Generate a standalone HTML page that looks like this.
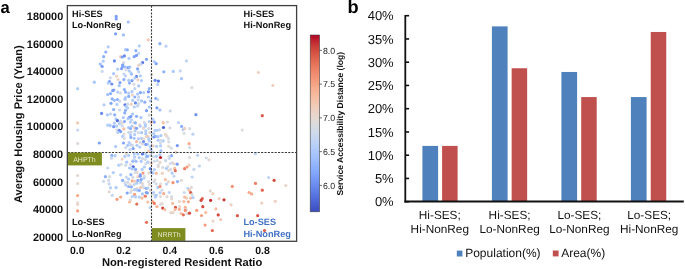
<!DOCTYPE html><html><head><meta charset="utf-8"><style>html,body{margin:0;padding:0;background:#fff;}body{width:685px;height:269px;overflow:hidden;}svg{display:block;will-change:transform;}text{font-family:"Liberation Sans",sans-serif;text-rendering:geometricPrecision;}</style></head><body>
<svg width="685" height="269" viewBox="0 0 685 269">
<defs><linearGradient id="cw" x1="0" y1="1" x2="0" y2="0">
<stop offset="0.000" stop-color="#3b4cc0"/>
<stop offset="0.050" stop-color="#4961d2"/>
<stop offset="0.100" stop-color="#5977e3"/>
<stop offset="0.150" stop-color="#6a8bef"/>
<stop offset="0.200" stop-color="#7b9ff9"/>
<stop offset="0.250" stop-color="#8db0fe"/>
<stop offset="0.300" stop-color="#9ebeff"/>
<stop offset="0.350" stop-color="#afcafc"/>
<stop offset="0.400" stop-color="#c0d4f5"/>
<stop offset="0.450" stop-color="#cfdaea"/>
<stop offset="0.500" stop-color="#dddcdc"/>
<stop offset="0.550" stop-color="#e9d5cb"/>
<stop offset="0.600" stop-color="#f2cbb7"/>
<stop offset="0.650" stop-color="#f6bda2"/>
<stop offset="0.700" stop-color="#f7ac8e"/>
<stop offset="0.750" stop-color="#f4987a"/>
<stop offset="0.800" stop-color="#ee8468"/>
<stop offset="0.850" stop-color="#e36c55"/>
<stop offset="0.900" stop-color="#d65244"/>
<stop offset="0.950" stop-color="#c53334"/>
<stop offset="1.000" stop-color="#b40426"/>
</linearGradient></defs>
<text x="0.5" y="12.8" font-size="16.6" font-weight="bold" fill="#000">a</text>
<text x="347.4" y="13.0" font-size="18.2" font-weight="bold" fill="#000">b</text>
<circle cx="116.20" cy="16.40" r="1.6" fill="#7b9ff9"/>
<circle cx="116.20" cy="18.90" r="1.6" fill="#7b9ff9"/>
<circle cx="128.20" cy="22.00" r="1.6" fill="#9ebeff"/>
<circle cx="115.60" cy="33.80" r="1.6" fill="#7b9ff9"/>
<circle cx="123.40" cy="34.90" r="1.6" fill="#9ebeff"/>
<circle cx="108.20" cy="46.80" r="1.6" fill="#b3cdfb"/>
<circle cx="125.50" cy="49.60" r="1.6" fill="#abc8fd"/>
<circle cx="105.80" cy="52.00" r="1.6" fill="#8db0fe"/>
<circle cx="103.60" cy="56.70" r="1.6" fill="#8db0fe"/>
<circle cx="120.50" cy="56.70" r="1.6" fill="#eed0c0"/>
<circle cx="124.40" cy="55.90" r="1.6" fill="#6a8bef"/>
<circle cx="122.20" cy="57.00" r="1.6" fill="#7b9ff9"/>
<circle cx="103.20" cy="61.20" r="1.6" fill="#b3cdfb"/>
<circle cx="114.40" cy="60.90" r="1.6" fill="#6a8bef"/>
<circle cx="100.20" cy="64.10" r="1.6" fill="#9ebeff"/>
<circle cx="123.60" cy="62.60" r="1.6" fill="#d5dbe5"/>
<circle cx="122.70" cy="65.20" r="1.6" fill="#7b9ff9"/>
<circle cx="148.20" cy="39.80" r="1.6" fill="#f2c9b4"/>
<circle cx="159.90" cy="43.70" r="1.6" fill="#8db0fe"/>
<circle cx="166.00" cy="46.20" r="1.6" fill="#bfd3f6"/>
<circle cx="139.30" cy="45.90" r="1.6" fill="#b3cdfb"/>
<circle cx="135.90" cy="50.70" r="1.6" fill="#8db0fe"/>
<circle cx="138.70" cy="53.40" r="1.6" fill="#bfd3f6"/>
<circle cx="136.50" cy="55.40" r="1.6" fill="#7b9ff9"/>
<circle cx="134.20" cy="56.70" r="1.6" fill="#7b9ff9"/>
<circle cx="129.00" cy="58.40" r="1.6" fill="#b3cdfb"/>
<circle cx="146.50" cy="59.30" r="1.6" fill="#82a6fb"/>
<circle cx="142.60" cy="62.60" r="1.6" fill="#5977e3"/>
<circle cx="140.90" cy="64.10" r="1.6" fill="#c6d6f1"/>
<circle cx="154.30" cy="61.70" r="1.6" fill="#b3cdfb"/>
<circle cx="156.20" cy="63.70" r="1.6" fill="#82a6fb"/>
<circle cx="186.40" cy="60.90" r="1.6" fill="#bfd3f6"/>
<circle cx="180.30" cy="70.90" r="1.6" fill="#c6d6f1"/>
<circle cx="181.50" cy="78.70" r="1.6" fill="#a6c4fe"/>
<circle cx="191.90" cy="87.60" r="1.6" fill="#d9dce1"/>
<circle cx="258.40" cy="72.50" r="1.6" fill="#eed0c0"/>
<circle cx="272.90" cy="85.40" r="1.6" fill="#eed0c0"/>
<circle cx="102.10" cy="66.40" r="1.6" fill="#7b9ff9"/>
<circle cx="102.10" cy="71.40" r="1.6" fill="#ccd9ed"/>
<circle cx="94.30" cy="82.20" r="1.6" fill="#a6c4fe"/>
<circle cx="77.60" cy="88.70" r="1.6" fill="#b3cdfb"/>
<circle cx="113.60" cy="73.70" r="1.6" fill="#abc8fd"/>
<circle cx="117.70" cy="69.20" r="1.6" fill="#b3cdfb"/>
<circle cx="121.60" cy="68.60" r="1.6" fill="#7b9ff9"/>
<circle cx="122.70" cy="66.40" r="1.6" fill="#82a6fb"/>
<circle cx="125.00" cy="67.00" r="1.6" fill="#9ebeff"/>
<circle cx="126.10" cy="69.80" r="1.6" fill="#d5dbe5"/>
<circle cx="123.90" cy="74.00" r="1.6" fill="#c6d6f1"/>
<circle cx="125.50" cy="75.90" r="1.6" fill="#bfd3f6"/>
<circle cx="110.30" cy="77.80" r="1.6" fill="#ccd9ed"/>
<circle cx="116.60" cy="76.20" r="1.6" fill="#ead4c8"/>
<circle cx="118.10" cy="79.50" r="1.6" fill="#ead4c8"/>
<circle cx="123.90" cy="79.60" r="1.6" fill="#8db0fe"/>
<circle cx="109.40" cy="81.50" r="1.6" fill="#7b9ff9"/>
<circle cx="108.20" cy="83.10" r="1.6" fill="#b3cdfb"/>
<circle cx="111.80" cy="84.00" r="1.6" fill="#6a8bef"/>
<circle cx="120.00" cy="82.60" r="1.6" fill="#82a6fb"/>
<circle cx="119.20" cy="85.70" r="1.6" fill="#a6c4fe"/>
<circle cx="113.80" cy="90.00" r="1.6" fill="#7b9ff9"/>
<circle cx="112.70" cy="90.70" r="1.6" fill="#7b9ff9"/>
<circle cx="124.40" cy="89.60" r="1.6" fill="#8db0fe"/>
<circle cx="117.70" cy="92.10" r="1.6" fill="#b3cdfb"/>
<circle cx="120.50" cy="92.90" r="1.6" fill="#d5dbe5"/>
<circle cx="125.50" cy="92.10" r="1.6" fill="#8db0fe"/>
<circle cx="110.50" cy="93.70" r="1.6" fill="#8db0fe"/>
<circle cx="107.70" cy="94.50" r="1.6" fill="#9ebeff"/>
<circle cx="128.10" cy="67.50" r="1.6" fill="#7b9ff9"/>
<circle cx="129.80" cy="67.00" r="1.6" fill="#9ebeff"/>
<circle cx="129.20" cy="70.90" r="1.6" fill="#b3cdfb"/>
<circle cx="137.60" cy="68.90" r="1.6" fill="#82a6fb"/>
<circle cx="138.70" cy="71.80" r="1.6" fill="#bfd3f6"/>
<circle cx="131.50" cy="74.00" r="1.6" fill="#8db0fe"/>
<circle cx="130.90" cy="72.90" r="1.6" fill="#b3cdfb"/>
<circle cx="136.50" cy="76.40" r="1.6" fill="#6a8bef"/>
<circle cx="140.40" cy="75.90" r="1.6" fill="#b3cdfb"/>
<circle cx="134.80" cy="78.10" r="1.6" fill="#b3cdfb"/>
<circle cx="137.90" cy="79.80" r="1.6" fill="#eed0c0"/>
<circle cx="141.50" cy="80.70" r="1.6" fill="#b3cdfb"/>
<circle cx="132.00" cy="80.70" r="1.6" fill="#7b9ff9"/>
<circle cx="128.70" cy="80.30" r="1.6" fill="#abc8fd"/>
<circle cx="129.50" cy="83.10" r="1.6" fill="#8db0fe"/>
<circle cx="133.90" cy="84.30" r="1.6" fill="#d5dbe5"/>
<circle cx="138.70" cy="85.90" r="1.6" fill="#abc8fd"/>
<circle cx="134.80" cy="88.70" r="1.6" fill="#bfd3f6"/>
<circle cx="132.00" cy="91.50" r="1.6" fill="#abc8fd"/>
<circle cx="128.70" cy="93.20" r="1.6" fill="#b3cdfb"/>
<circle cx="140.40" cy="92.60" r="1.6" fill="#82a6fb"/>
<circle cx="143.70" cy="92.60" r="1.6" fill="#b3cdfb"/>
<circle cx="137.60" cy="94.10" r="1.6" fill="#abc8fd"/>
<circle cx="132.40" cy="94.80" r="1.6" fill="#ead4c8"/>
<circle cx="149.30" cy="88.70" r="1.6" fill="#8db0fe"/>
<circle cx="148.40" cy="91.80" r="1.6" fill="#6a8bef"/>
<circle cx="151.70" cy="74.40" r="1.6" fill="#e4d9d2"/>
<circle cx="155.10" cy="80.30" r="1.6" fill="#6a8bef"/>
<circle cx="158.40" cy="81.10" r="1.6" fill="#5977e3"/>
<circle cx="157.70" cy="84.50" r="1.6" fill="#b3cdfb"/>
<circle cx="163.80" cy="71.80" r="1.6" fill="#8db0fe"/>
<circle cx="173.30" cy="71.40" r="1.6" fill="#abc8fd"/>
<circle cx="112.20" cy="98.90" r="1.6" fill="#8db0fe"/>
<circle cx="114.40" cy="100.30" r="1.6" fill="#9ebeff"/>
<circle cx="117.40" cy="99.50" r="1.6" fill="#8db0fe"/>
<circle cx="119.60" cy="101.10" r="1.6" fill="#c6d6f1"/>
<circle cx="125.50" cy="97.50" r="1.6" fill="#b3cdfb"/>
<circle cx="125.00" cy="99.20" r="1.6" fill="#a6c4fe"/>
<circle cx="111.00" cy="103.30" r="1.6" fill="#82a6fb"/>
<circle cx="104.00" cy="104.80" r="1.6" fill="#b3cdfb"/>
<circle cx="117.00" cy="104.40" r="1.6" fill="#b3cdfb"/>
<circle cx="125.00" cy="104.80" r="1.6" fill="#5977e3"/>
<circle cx="126.10" cy="106.40" r="1.6" fill="#abc8fd"/>
<circle cx="113.60" cy="109.60" r="1.6" fill="#8db0fe"/>
<circle cx="119.60" cy="110.00" r="1.6" fill="#ccd9ed"/>
<circle cx="125.50" cy="110.30" r="1.6" fill="#8db0fe"/>
<circle cx="101.60" cy="113.40" r="1.6" fill="#6a8bef"/>
<circle cx="107.40" cy="114.80" r="1.6" fill="#abc8fd"/>
<circle cx="110.50" cy="114.00" r="1.6" fill="#bfd3f6"/>
<circle cx="114.70" cy="114.80" r="1.6" fill="#8db0fe"/>
<circle cx="124.70" cy="112.90" r="1.6" fill="#8db0fe"/>
<circle cx="77.60" cy="122.90" r="1.6" fill="#f2c9b4"/>
<circle cx="116.00" cy="118.90" r="1.6" fill="#b3cdfb"/>
<circle cx="117.40" cy="120.70" r="1.6" fill="#536edd"/>
<circle cx="120.50" cy="121.20" r="1.6" fill="#d5dbe5"/>
<circle cx="123.30" cy="117.60" r="1.6" fill="#abc8fd"/>
<circle cx="124.40" cy="121.50" r="1.6" fill="#82a6fb"/>
<circle cx="122.50" cy="123.20" r="1.6" fill="#e4d9d2"/>
<circle cx="114.40" cy="123.20" r="1.6" fill="#b3cdfb"/>
<circle cx="119.40" cy="123.70" r="1.6" fill="#b3cdfb"/>
<circle cx="107.70" cy="125.20" r="1.6" fill="#b3cdfb"/>
<circle cx="109.90" cy="125.20" r="1.6" fill="#b3cdfb"/>
<circle cx="128.70" cy="96.40" r="1.6" fill="#8db0fe"/>
<circle cx="134.80" cy="97.00" r="1.6" fill="#8db0fe"/>
<circle cx="138.70" cy="97.00" r="1.6" fill="#c6d6f1"/>
<circle cx="132.60" cy="100.30" r="1.6" fill="#b3cdfb"/>
<circle cx="138.10" cy="99.80" r="1.6" fill="#c6d6f1"/>
<circle cx="141.50" cy="100.90" r="1.6" fill="#a6c4fe"/>
<circle cx="144.80" cy="102.20" r="1.6" fill="#8db0fe"/>
<circle cx="148.40" cy="97.00" r="1.6" fill="#abc8fd"/>
<circle cx="150.40" cy="100.90" r="1.6" fill="#b3cdfb"/>
<circle cx="135.40" cy="102.90" r="1.6" fill="#6a8bef"/>
<circle cx="131.20" cy="104.20" r="1.6" fill="#eed0c0"/>
<circle cx="127.60" cy="104.20" r="1.6" fill="#ccd9ed"/>
<circle cx="134.20" cy="107.00" r="1.6" fill="#b3cdfb"/>
<circle cx="137.60" cy="105.90" r="1.6" fill="#bfd3f6"/>
<circle cx="138.70" cy="103.70" r="1.6" fill="#ccd9ed"/>
<circle cx="127.60" cy="108.10" r="1.6" fill="#b3cdfb"/>
<circle cx="149.30" cy="107.00" r="1.6" fill="#a6c4fe"/>
<circle cx="146.50" cy="110.70" r="1.6" fill="#7b9ff9"/>
<circle cx="155.80" cy="98.40" r="1.6" fill="#8db0fe"/>
<circle cx="157.70" cy="99.50" r="1.6" fill="#bfd3f6"/>
<circle cx="156.90" cy="107.80" r="1.6" fill="#7b9ff9"/>
<circle cx="159.90" cy="110.00" r="1.6" fill="#9ebeff"/>
<circle cx="170.30" cy="110.90" r="1.6" fill="#ccd9ed"/>
<circle cx="132.60" cy="114.00" r="1.6" fill="#abc8fd"/>
<circle cx="136.50" cy="116.30" r="1.6" fill="#8db0fe"/>
<circle cx="130.90" cy="116.50" r="1.6" fill="#7b9ff9"/>
<circle cx="129.20" cy="117.40" r="1.6" fill="#7b9ff9"/>
<circle cx="128.10" cy="118.70" r="1.6" fill="#abc8fd"/>
<circle cx="140.90" cy="117.60" r="1.6" fill="#abc8fd"/>
<circle cx="149.10" cy="115.10" r="1.6" fill="#d9dce1"/>
<circle cx="131.50" cy="119.80" r="1.6" fill="#bfd3f6"/>
<circle cx="130.30" cy="122.10" r="1.6" fill="#b3cdfb"/>
<circle cx="133.70" cy="122.60" r="1.6" fill="#d5dbe5"/>
<circle cx="135.40" cy="122.90" r="1.6" fill="#8db0fe"/>
<circle cx="144.30" cy="122.30" r="1.6" fill="#d5dbe5"/>
<circle cx="149.30" cy="121.50" r="1.6" fill="#b3cdfb"/>
<circle cx="151.30" cy="122.30" r="1.6" fill="#f7bca1"/>
<circle cx="152.90" cy="119.30" r="1.6" fill="#b3cdfb"/>
<circle cx="154.30" cy="122.10" r="1.6" fill="#7b9ff9"/>
<circle cx="163.20" cy="122.60" r="1.6" fill="#f7bca1"/>
<circle cx="167.40" cy="122.10" r="1.6" fill="#d9dce1"/>
<circle cx="178.50" cy="122.60" r="1.6" fill="#bfd3f6"/>
<circle cx="139.80" cy="124.80" r="1.6" fill="#e4d9d2"/>
<circle cx="145.40" cy="124.50" r="1.6" fill="#b3cdfb"/>
<circle cx="195.90" cy="114.70" r="1.6" fill="#7093f3"/>
<circle cx="262.30" cy="115.70" r="1.6" fill="#da5a49"/>
<circle cx="242.20" cy="130.10" r="1.6" fill="#e0dbd8"/>
<circle cx="163.50" cy="127.50" r="1.6" fill="#4961d2"/>
<circle cx="169.90" cy="127.80" r="1.6" fill="#d5dbe5"/>
<circle cx="181.60" cy="126.40" r="1.6" fill="#8db0fe"/>
<circle cx="183.20" cy="129.50" r="1.6" fill="#abc8fd"/>
<circle cx="184.70" cy="128.40" r="1.6" fill="#eed0c0"/>
<circle cx="189.60" cy="128.60" r="1.6" fill="#d9dce1"/>
<circle cx="184.00" cy="133.30" r="1.6" fill="#d9dce1"/>
<circle cx="192.90" cy="134.20" r="1.6" fill="#bfd3f6"/>
<circle cx="189.10" cy="143.70" r="1.6" fill="#f7aa8c"/>
<circle cx="189.60" cy="147.60" r="1.6" fill="#d5dbe5"/>
<circle cx="177.30" cy="145.60" r="1.6" fill="#7597f6"/>
<circle cx="168.70" cy="146.30" r="1.6" fill="#e4d9d2"/>
<circle cx="171.30" cy="148.20" r="1.6" fill="#d5dbe5"/>
<circle cx="175.80" cy="152.10" r="1.6" fill="#ead4c8"/>
<circle cx="165.40" cy="134.40" r="1.6" fill="#ead4c8"/>
<circle cx="166.80" cy="136.20" r="1.6" fill="#e4d9d2"/>
<circle cx="168.40" cy="138.50" r="1.6" fill="#d5dbe5"/>
<circle cx="168.70" cy="141.80" r="1.6" fill="#d9dce1"/>
<circle cx="160.90" cy="135.60" r="1.6" fill="#abc8fd"/>
<circle cx="163.20" cy="140.90" r="1.6" fill="#b3cdfb"/>
<circle cx="160.90" cy="140.30" r="1.6" fill="#cfdaea"/>
<circle cx="160.40" cy="143.10" r="1.6" fill="#d5dbe5"/>
<circle cx="160.60" cy="145.90" r="1.6" fill="#b3cdfb"/>
<circle cx="160.90" cy="150.70" r="1.6" fill="#abc8fd"/>
<circle cx="156.50" cy="146.30" r="1.6" fill="#b3cdfb"/>
<circle cx="158.10" cy="140.30" r="1.6" fill="#b3cdfb"/>
<circle cx="153.90" cy="137.00" r="1.6" fill="#7597f6"/>
<circle cx="155.40" cy="136.40" r="1.6" fill="#8db0fe"/>
<circle cx="157.90" cy="136.70" r="1.6" fill="#abc8fd"/>
<circle cx="155.00" cy="130.30" r="1.6" fill="#b3cdfb"/>
<circle cx="157.00" cy="130.30" r="1.6" fill="#b3cdfb"/>
<circle cx="159.30" cy="129.80" r="1.6" fill="#bfd3f6"/>
<circle cx="153.70" cy="133.70" r="1.6" fill="#b3cdfb"/>
<circle cx="148.70" cy="128.60" r="1.6" fill="#d5dbe5"/>
<circle cx="149.80" cy="132.50" r="1.6" fill="#e4d9d2"/>
<circle cx="147.60" cy="136.40" r="1.6" fill="#f2c9b4"/>
<circle cx="148.70" cy="138.70" r="1.6" fill="#b3cdfb"/>
<circle cx="149.20" cy="140.90" r="1.6" fill="#b3cdfb"/>
<circle cx="153.10" cy="145.90" r="1.6" fill="#ead4c8"/>
<circle cx="150.30" cy="146.70" r="1.6" fill="#b3cdfb"/>
<circle cx="147.60" cy="144.30" r="1.6" fill="#b3cdfb"/>
<circle cx="150.90" cy="149.60" r="1.6" fill="#abc8fd"/>
<circle cx="148.70" cy="151.20" r="1.6" fill="#f2c9b4"/>
<circle cx="153.10" cy="152.10" r="1.6" fill="#d5dbe5"/>
<circle cx="113.70" cy="126.70" r="1.6" fill="#7597f6"/>
<circle cx="116.50" cy="126.20" r="1.6" fill="#b3cdfb"/>
<circle cx="122.10" cy="126.00" r="1.6" fill="#ccd9ed"/>
<circle cx="117.00" cy="129.90" r="1.6" fill="#d5dbe5"/>
<circle cx="119.30" cy="130.40" r="1.6" fill="#6a8bef"/>
<circle cx="120.70" cy="131.60" r="1.6" fill="#7b9ff9"/>
<circle cx="117.90" cy="132.50" r="1.6" fill="#b3cdfb"/>
<circle cx="123.80" cy="128.80" r="1.6" fill="#f7bca1"/>
<circle cx="124.00" cy="134.10" r="1.6" fill="#e4d9d2"/>
<circle cx="122.60" cy="136.30" r="1.6" fill="#b3cdfb"/>
<circle cx="124.40" cy="138.30" r="1.6" fill="#dddcdc"/>
<circle cx="128.60" cy="127.60" r="1.6" fill="#abc8fd"/>
<circle cx="130.50" cy="128.60" r="1.6" fill="#8db0fe"/>
<circle cx="131.90" cy="126.20" r="1.6" fill="#b3cdfb"/>
<circle cx="128.60" cy="132.30" r="1.6" fill="#ccd9ed"/>
<circle cx="130.90" cy="132.30" r="1.6" fill="#ccd9ed"/>
<circle cx="130.50" cy="135.10" r="1.6" fill="#b3cdfb"/>
<circle cx="130.90" cy="137.40" r="1.6" fill="#8db0fe"/>
<circle cx="134.60" cy="127.60" r="1.6" fill="#f2c9b4"/>
<circle cx="136.50" cy="128.30" r="1.6" fill="#7b9ff9"/>
<circle cx="135.10" cy="130.90" r="1.6" fill="#b3cdfb"/>
<circle cx="134.60" cy="134.60" r="1.6" fill="#b3cdfb"/>
<circle cx="134.20" cy="138.30" r="1.6" fill="#abc8fd"/>
<circle cx="138.40" cy="132.70" r="1.6" fill="#d5dbe5"/>
<circle cx="140.20" cy="126.20" r="1.6" fill="#b3cdfb"/>
<circle cx="143.50" cy="128.10" r="1.6" fill="#ead4c8"/>
<circle cx="145.30" cy="126.20" r="1.6" fill="#b3cdfb"/>
<circle cx="141.60" cy="132.70" r="1.6" fill="#abc8fd"/>
<circle cx="145.80" cy="130.90" r="1.6" fill="#b3cdfb"/>
<circle cx="145.80" cy="133.70" r="1.6" fill="#abc8fd"/>
<circle cx="138.40" cy="138.80" r="1.6" fill="#b3cdfb"/>
<circle cx="141.60" cy="138.30" r="1.6" fill="#b3cdfb"/>
<circle cx="143.50" cy="139.20" r="1.6" fill="#e4d9d2"/>
<circle cx="146.30" cy="136.50" r="1.6" fill="#eed0c0"/>
<circle cx="99.30" cy="143.00" r="1.6" fill="#7b9ff9"/>
<circle cx="115.60" cy="146.50" r="1.6" fill="#abc8fd"/>
<circle cx="123.50" cy="143.00" r="1.6" fill="#82a6fb"/>
<circle cx="129.10" cy="142.50" r="1.6" fill="#b3cdfb"/>
<circle cx="127.70" cy="145.30" r="1.6" fill="#abc8fd"/>
<circle cx="130.90" cy="144.80" r="1.6" fill="#b3cdfb"/>
<circle cx="125.80" cy="147.60" r="1.6" fill="#ccd9ed"/>
<circle cx="132.80" cy="145.70" r="1.6" fill="#d5dbe5"/>
<circle cx="133.20" cy="148.50" r="1.6" fill="#7b9ff9"/>
<circle cx="136.50" cy="141.60" r="1.6" fill="#f7bca1"/>
<circle cx="137.00" cy="145.30" r="1.6" fill="#b3cdfb"/>
<circle cx="139.80" cy="147.10" r="1.6" fill="#b3cdfb"/>
<circle cx="140.20" cy="142.50" r="1.6" fill="#d5dbe5"/>
<circle cx="142.50" cy="143.90" r="1.6" fill="#d8dce2"/>
<circle cx="143.50" cy="141.60" r="1.6" fill="#7597f6"/>
<circle cx="145.80" cy="144.40" r="1.6" fill="#7b9ff9"/>
<circle cx="130.00" cy="149.60" r="1.6" fill="#c6d6f1"/>
<circle cx="77.70" cy="130.10" r="1.6" fill="#c6d6f1"/>
<circle cx="77.70" cy="143.40" r="1.6" fill="#e1dad6"/>
<circle cx="110.20" cy="125.80" r="1.6" fill="#b3cdfb"/>
<circle cx="111.90" cy="155.40" r="1.6" fill="#8db0fe"/>
<circle cx="115.10" cy="155.70" r="1.6" fill="#b3cdfb"/>
<circle cx="111.40" cy="158.20" r="1.6" fill="#ccd9ed"/>
<circle cx="122.10" cy="159.10" r="1.6" fill="#ead4c8"/>
<circle cx="124.90" cy="156.30" r="1.6" fill="#abc8fd"/>
<circle cx="126.30" cy="154.00" r="1.6" fill="#e4d9d2"/>
<circle cx="128.60" cy="155.40" r="1.6" fill="#b3cdfb"/>
<circle cx="134.60" cy="156.80" r="1.6" fill="#b3cdfb"/>
<circle cx="134.20" cy="154.00" r="1.6" fill="#b3cdfb"/>
<circle cx="137.90" cy="154.00" r="1.6" fill="#abc8fd"/>
<circle cx="142.40" cy="154.00" r="1.6" fill="#5977e3"/>
<circle cx="145.80" cy="154.00" r="1.6" fill="#b3cdfb"/>
<circle cx="139.30" cy="157.70" r="1.6" fill="#b3cdfb"/>
<circle cx="142.50" cy="158.70" r="1.6" fill="#d5dbe5"/>
<circle cx="145.30" cy="159.60" r="1.6" fill="#d5dbe5"/>
<circle cx="134.20" cy="159.60" r="1.6" fill="#ccd9ed"/>
<circle cx="132.80" cy="161.30" r="1.6" fill="#9ebeff"/>
<circle cx="136.00" cy="161.30" r="1.6" fill="#9ebeff"/>
<circle cx="141.10" cy="161.30" r="1.6" fill="#abc8fd"/>
<circle cx="126.70" cy="162.20" r="1.6" fill="#abc8fd"/>
<circle cx="118.80" cy="165.20" r="1.6" fill="#b3cdfb"/>
<circle cx="121.20" cy="164.40" r="1.6" fill="#d5dbe5"/>
<circle cx="125.80" cy="165.20" r="1.6" fill="#cfdaea"/>
<circle cx="130.50" cy="164.70" r="1.6" fill="#d8dce2"/>
<circle cx="133.20" cy="166.80" r="1.6" fill="#4961d2"/>
<circle cx="129.50" cy="168.00" r="1.6" fill="#abc8fd"/>
<circle cx="132.30" cy="168.90" r="1.6" fill="#abc8fd"/>
<circle cx="135.60" cy="169.40" r="1.6" fill="#8db0fe"/>
<circle cx="107.70" cy="168.00" r="1.6" fill="#c6d6f1"/>
<circle cx="113.30" cy="172.60" r="1.6" fill="#b3cdfb"/>
<circle cx="120.70" cy="174.90" r="1.6" fill="#b3cdfb"/>
<circle cx="130.90" cy="174.60" r="1.6" fill="#8db0fe"/>
<circle cx="135.10" cy="172.60" r="1.6" fill="#d5dbe5"/>
<circle cx="137.00" cy="172.60" r="1.6" fill="#e4d9d2"/>
<circle cx="143.00" cy="173.10" r="1.6" fill="#f59d7e"/>
<circle cx="142.10" cy="169.40" r="1.6" fill="#b3cdfb"/>
<circle cx="144.40" cy="167.00" r="1.6" fill="#b3cdfb"/>
<circle cx="145.80" cy="163.80" r="1.6" fill="#d5dbe5"/>
<circle cx="146.30" cy="156.80" r="1.6" fill="#abc8fd"/>
<circle cx="140.20" cy="174.90" r="1.6" fill="#7b9ff9"/>
<circle cx="147.50" cy="156.30" r="1.6" fill="#8db0fe"/>
<circle cx="150.70" cy="155.40" r="1.6" fill="#ccd9ed"/>
<circle cx="153.50" cy="156.80" r="1.6" fill="#d5dbe5"/>
<circle cx="156.30" cy="156.30" r="1.6" fill="#b3cdfb"/>
<circle cx="160.00" cy="154.80" r="1.6" fill="#b3cdfb"/>
<circle cx="160.50" cy="157.50" r="1.6" fill="#bb1b2c"/>
<circle cx="169.30" cy="156.30" r="1.6" fill="#d5dbe5"/>
<circle cx="171.60" cy="155.70" r="1.6" fill="#8db0fe"/>
<circle cx="169.30" cy="158.50" r="1.6" fill="#ccd9ed"/>
<circle cx="189.60" cy="157.50" r="1.6" fill="#d9dce1"/>
<circle cx="197.50" cy="155.30" r="1.6" fill="#bfd3f6"/>
<circle cx="147.90" cy="162.20" r="1.6" fill="#b3cdfb"/>
<circle cx="151.20" cy="163.30" r="1.6" fill="#eed0c0"/>
<circle cx="154.40" cy="161.30" r="1.6" fill="#d5dbe5"/>
<circle cx="157.20" cy="160.50" r="1.6" fill="#cfdaea"/>
<circle cx="160.00" cy="162.40" r="1.6" fill="#ead4c8"/>
<circle cx="165.60" cy="160.70" r="1.6" fill="#c6d6f1"/>
<circle cx="158.20" cy="165.20" r="1.6" fill="#d5dbe5"/>
<circle cx="170.20" cy="163.50" r="1.6" fill="#d5dbe5"/>
<circle cx="172.10" cy="162.80" r="1.6" fill="#cfdaea"/>
<circle cx="174.00" cy="163.80" r="1.6" fill="#ead4c8"/>
<circle cx="177.20" cy="164.20" r="1.6" fill="#7b9ff9"/>
<circle cx="150.30" cy="168.70" r="1.6" fill="#6a8bef"/>
<circle cx="154.40" cy="169.60" r="1.6" fill="#b3cdfb"/>
<circle cx="158.20" cy="166.60" r="1.6" fill="#e4d9d2"/>
<circle cx="162.80" cy="167.50" r="1.6" fill="#d5dbe5"/>
<circle cx="166.50" cy="168.40" r="1.6" fill="#abc8fd"/>
<circle cx="167.90" cy="166.60" r="1.6" fill="#d5dbe5"/>
<circle cx="168.80" cy="170.30" r="1.6" fill="#ead4c8"/>
<circle cx="170.70" cy="169.40" r="1.6" fill="#d5dbe5"/>
<circle cx="174.70" cy="168.40" r="1.6" fill="#f7bca1"/>
<circle cx="175.30" cy="170.70" r="1.6" fill="#e57058"/>
<circle cx="184.60" cy="168.70" r="1.6" fill="#ec7f63"/>
<circle cx="187.00" cy="167.00" r="1.6" fill="#f59d7e"/>
<circle cx="189.00" cy="165.20" r="1.6" fill="#eed0c0"/>
<circle cx="193.90" cy="169.40" r="1.6" fill="#c6d6f1"/>
<circle cx="151.20" cy="172.10" r="1.6" fill="#7b9ff9"/>
<circle cx="148.90" cy="173.10" r="1.6" fill="#e4d9d2"/>
<circle cx="153.00" cy="173.10" r="1.6" fill="#b3cdfb"/>
<circle cx="156.30" cy="173.30" r="1.6" fill="#f7bca1"/>
<circle cx="162.30" cy="173.30" r="1.6" fill="#eed0c0"/>
<circle cx="172.10" cy="173.10" r="1.6" fill="#abc8fd"/>
<circle cx="206.30" cy="158.00" r="1.6" fill="#d5dbe5"/>
<circle cx="209.10" cy="159.80" r="1.6" fill="#e4d9d2"/>
<circle cx="199.40" cy="166.00" r="1.6" fill="#bfd3f6"/>
<circle cx="255.50" cy="153.70" r="1.6" fill="#bfd3f6"/>
<circle cx="268.60" cy="177.50" r="1.6" fill="#bfd3f6"/>
<circle cx="274.10" cy="180.30" r="1.6" fill="#d1493f"/>
<circle cx="285.80" cy="185.50" r="1.6" fill="#ead4c8"/>
<circle cx="232.30" cy="186.40" r="1.6" fill="#f29274"/>
<circle cx="255.50" cy="183.40" r="1.6" fill="#ec7f63"/>
<circle cx="105.40" cy="176.70" r="1.6" fill="#8db0fe"/>
<circle cx="109.50" cy="176.70" r="1.6" fill="#d5dbe5"/>
<circle cx="103.50" cy="181.30" r="1.6" fill="#ccd9ed"/>
<circle cx="108.60" cy="180.40" r="1.6" fill="#d5dbe5"/>
<circle cx="109.10" cy="183.90" r="1.6" fill="#c6d6f1"/>
<circle cx="110.50" cy="187.80" r="1.6" fill="#b3cdfb"/>
<circle cx="116.10" cy="187.60" r="1.6" fill="#abc8fd"/>
<circle cx="109.10" cy="191.80" r="1.6" fill="#e4d9d2"/>
<circle cx="112.30" cy="195.30" r="1.6" fill="#c6d6f1"/>
<circle cx="122.60" cy="180.40" r="1.6" fill="#8db0fe"/>
<circle cx="124.90" cy="182.50" r="1.6" fill="#d5dbe5"/>
<circle cx="126.30" cy="177.20" r="1.6" fill="#ccd9ed"/>
<circle cx="128.60" cy="179.00" r="1.6" fill="#b3cdfb"/>
<circle cx="127.70" cy="182.30" r="1.6" fill="#d5dbe5"/>
<circle cx="125.80" cy="185.10" r="1.6" fill="#b3cdfb"/>
<circle cx="128.60" cy="186.50" r="1.6" fill="#8db0fe"/>
<circle cx="131.40" cy="186.90" r="1.6" fill="#8db0fe"/>
<circle cx="130.00" cy="184.60" r="1.6" fill="#e4d9d2"/>
<circle cx="132.30" cy="180.90" r="1.6" fill="#f7aa8c"/>
<circle cx="132.80" cy="177.20" r="1.6" fill="#d5dbe5"/>
<circle cx="135.10" cy="181.30" r="1.6" fill="#eed0c0"/>
<circle cx="134.20" cy="184.60" r="1.6" fill="#c6d6f1"/>
<circle cx="137.00" cy="183.20" r="1.6" fill="#b3cdfb"/>
<circle cx="137.90" cy="180.40" r="1.6" fill="#8db0fe"/>
<circle cx="137.90" cy="176.70" r="1.6" fill="#eed0c0"/>
<circle cx="140.20" cy="176.20" r="1.6" fill="#7b9ff9"/>
<circle cx="141.10" cy="179.50" r="1.6" fill="#82a6fb"/>
<circle cx="143.90" cy="178.10" r="1.6" fill="#b3cdfb"/>
<circle cx="144.40" cy="176.20" r="1.6" fill="#d5dbe5"/>
<circle cx="140.70" cy="182.30" r="1.6" fill="#abc8fd"/>
<circle cx="142.50" cy="183.70" r="1.6" fill="#e4d9d2"/>
<circle cx="143.00" cy="186.00" r="1.6" fill="#d5dbe5"/>
<circle cx="140.70" cy="187.40" r="1.6" fill="#f2c9b4"/>
<circle cx="143.90" cy="187.80" r="1.6" fill="#d5dbe5"/>
<circle cx="146.30" cy="188.30" r="1.6" fill="#8db0fe"/>
<circle cx="137.00" cy="188.30" r="1.6" fill="#e4d9d2"/>
<circle cx="134.60" cy="189.70" r="1.6" fill="#b3cdfb"/>
<circle cx="137.00" cy="190.20" r="1.6" fill="#b3cdfb"/>
<circle cx="139.30" cy="190.40" r="1.6" fill="#8db0fe"/>
<circle cx="131.40" cy="190.60" r="1.6" fill="#e1dad6"/>
<circle cx="130.50" cy="192.50" r="1.6" fill="#d5dbe5"/>
<circle cx="127.20" cy="193.00" r="1.6" fill="#82a6fb"/>
<circle cx="134.60" cy="194.40" r="1.6" fill="#f59d7e"/>
<circle cx="132.30" cy="196.50" r="1.6" fill="#b3cdfb"/>
<circle cx="135.60" cy="196.90" r="1.6" fill="#b3cdfb"/>
<circle cx="139.30" cy="197.10" r="1.6" fill="#b3cdfb"/>
<circle cx="142.50" cy="193.90" r="1.6" fill="#abc8fd"/>
<circle cx="142.10" cy="198.10" r="1.6" fill="#f7bca1"/>
<circle cx="145.30" cy="196.20" r="1.6" fill="#ec7f63"/>
<circle cx="146.30" cy="192.50" r="1.6" fill="#7b9ff9"/>
<circle cx="120.70" cy="197.10" r="1.6" fill="#f7aa8c"/>
<circle cx="117.00" cy="199.30" r="1.6" fill="#f59d7e"/>
<circle cx="130.50" cy="199.90" r="1.6" fill="#e4d9d2"/>
<circle cx="174.00" cy="176.20" r="1.6" fill="#c6d6f1"/>
<circle cx="192.10" cy="177.00" r="1.6" fill="#bfd3f6"/>
<circle cx="148.40" cy="181.60" r="1.6" fill="#d5dbe5"/>
<circle cx="154.90" cy="179.90" r="1.6" fill="#e4d9d2"/>
<circle cx="154.00" cy="181.80" r="1.6" fill="#d5dbe5"/>
<circle cx="149.30" cy="184.40" r="1.6" fill="#e4d9d2"/>
<circle cx="156.30" cy="183.90" r="1.6" fill="#d5dbe5"/>
<circle cx="160.50" cy="184.10" r="1.6" fill="#e4d9d2"/>
<circle cx="165.40" cy="179.50" r="1.6" fill="#f7bca1"/>
<circle cx="168.40" cy="181.80" r="1.6" fill="#e9d5cb"/>
<circle cx="166.50" cy="184.10" r="1.6" fill="#bfd3f6"/>
<circle cx="173.00" cy="182.70" r="1.6" fill="#f29274"/>
<circle cx="177.50" cy="181.60" r="1.6" fill="#8db0fe"/>
<circle cx="181.40" cy="180.40" r="1.6" fill="#e1dad6"/>
<circle cx="147.90" cy="188.10" r="1.6" fill="#b3cdfb"/>
<circle cx="147.50" cy="193.00" r="1.6" fill="#82a6fb"/>
<circle cx="150.30" cy="190.60" r="1.6" fill="#e4d9d2"/>
<circle cx="158.00" cy="187.40" r="1.6" fill="#abc8fd"/>
<circle cx="160.00" cy="186.50" r="1.6" fill="#f29274"/>
<circle cx="161.90" cy="190.20" r="1.6" fill="#d5dbe5"/>
<circle cx="153.50" cy="192.50" r="1.6" fill="#b3cdfb"/>
<circle cx="160.00" cy="192.80" r="1.6" fill="#b3cdfb"/>
<circle cx="163.70" cy="193.70" r="1.6" fill="#f7aa8c"/>
<circle cx="154.00" cy="194.40" r="1.6" fill="#d5dbe5"/>
<circle cx="156.30" cy="195.30" r="1.6" fill="#abc8fd"/>
<circle cx="155.40" cy="197.10" r="1.6" fill="#b3cdfb"/>
<circle cx="160.50" cy="196.50" r="1.6" fill="#e4d9d2"/>
<circle cx="169.30" cy="192.50" r="1.6" fill="#bfd3f6"/>
<circle cx="167.00" cy="196.70" r="1.6" fill="#e4d9d2"/>
<circle cx="171.60" cy="196.70" r="1.6" fill="#d5dbe5"/>
<circle cx="171.60" cy="199.00" r="1.6" fill="#e4d9d2"/>
<circle cx="184.20" cy="192.50" r="1.6" fill="#ccd9ed"/>
<circle cx="187.90" cy="188.30" r="1.6" fill="#bfd3f6"/>
<circle cx="191.40" cy="187.40" r="1.6" fill="#e4d9d2"/>
<circle cx="189.30" cy="190.20" r="1.6" fill="#f7bca1"/>
<circle cx="190.70" cy="192.50" r="1.6" fill="#da5a49"/>
<circle cx="192.10" cy="194.60" r="1.6" fill="#d5dbe5"/>
<circle cx="184.60" cy="197.10" r="1.6" fill="#f7bca1"/>
<circle cx="186.50" cy="198.10" r="1.6" fill="#f2c9b4"/>
<circle cx="190.70" cy="198.10" r="1.6" fill="#f7bca1"/>
<circle cx="193.00" cy="197.60" r="1.6" fill="#b3cdfb"/>
<circle cx="77.60" cy="175.50" r="1.6" fill="#e4d9d2"/>
<circle cx="77.60" cy="183.50" r="1.6" fill="#e9d5cb"/>
<circle cx="77.60" cy="195.60" r="1.6" fill="#f7aa8c"/>
<circle cx="77.60" cy="202.80" r="1.6" fill="#e0dbd8"/>
<circle cx="77.60" cy="204.30" r="1.6" fill="#ead4c8"/>
<circle cx="77.60" cy="210.80" r="1.6" fill="#f59d7e"/>
<circle cx="129.50" cy="202.00" r="1.6" fill="#f7bca1"/>
<circle cx="136.80" cy="204.10" r="1.6" fill="#e57058"/>
<circle cx="147.80" cy="202.00" r="1.6" fill="#f7bca1"/>
<circle cx="152.80" cy="201.60" r="1.6" fill="#f7aa8c"/>
<circle cx="154.30" cy="203.40" r="1.6" fill="#ec7f63"/>
<circle cx="156.90" cy="206.50" r="1.6" fill="#f7b093"/>
<circle cx="160.70" cy="204.30" r="1.6" fill="#d9dce1"/>
<circle cx="162.10" cy="203.70" r="1.6" fill="#e4d9d2"/>
<circle cx="150.00" cy="207.60" r="1.6" fill="#bfd3f6"/>
<circle cx="162.70" cy="208.10" r="1.6" fill="#d1493f"/>
<circle cx="164.80" cy="209.60" r="1.6" fill="#f7bca1"/>
<circle cx="172.60" cy="203.40" r="1.6" fill="#f7bca1"/>
<circle cx="170.90" cy="212.70" r="1.6" fill="#ead4c8"/>
<circle cx="172.90" cy="212.70" r="1.6" fill="#ead4c8"/>
<circle cx="175.50" cy="207.40" r="1.6" fill="#da5a49"/>
<circle cx="175.10" cy="209.60" r="1.6" fill="#f7bca1"/>
<circle cx="179.40" cy="201.60" r="1.6" fill="#e9d5cb"/>
<circle cx="179.70" cy="206.50" r="1.6" fill="#ead4c8"/>
<circle cx="179.40" cy="209.30" r="1.6" fill="#f7aa8c"/>
<circle cx="183.90" cy="201.60" r="1.6" fill="#f7bca1"/>
<circle cx="188.40" cy="201.80" r="1.6" fill="#f7aa8c"/>
<circle cx="185.30" cy="207.40" r="1.6" fill="#f7b093"/>
<circle cx="186.20" cy="209.60" r="1.6" fill="#e4d9d2"/>
<circle cx="185.30" cy="210.40" r="1.6" fill="#f29274"/>
<circle cx="181.10" cy="213.60" r="1.6" fill="#f7bca1"/>
<circle cx="183.40" cy="214.80" r="1.6" fill="#e57058"/>
<circle cx="187.10" cy="213.60" r="1.6" fill="#e4d9d2"/>
<circle cx="189.50" cy="213.20" r="1.6" fill="#d1493f"/>
<circle cx="146.50" cy="222.30" r="1.6" fill="#e57058"/>
<circle cx="210.30" cy="190.90" r="1.6" fill="#e4d9d2"/>
<circle cx="212.90" cy="193.70" r="1.6" fill="#eed0c0"/>
<circle cx="249.10" cy="192.50" r="1.6" fill="#f7aa8c"/>
<circle cx="202.30" cy="198.50" r="1.6" fill="#e0654f"/>
<circle cx="201.10" cy="200.30" r="1.6" fill="#d1493f"/>
<circle cx="210.60" cy="200.30" r="1.6" fill="#c43032"/>
<circle cx="219.20" cy="198.70" r="1.6" fill="#eed0c0"/>
<circle cx="224.00" cy="199.80" r="1.6" fill="#ca3b37"/>
<circle cx="231.00" cy="204.80" r="1.6" fill="#eed0c0"/>
<circle cx="202.80" cy="206.70" r="1.6" fill="#d1493f"/>
<circle cx="196.70" cy="210.40" r="1.6" fill="#f59d7e"/>
<circle cx="215.90" cy="208.90" r="1.6" fill="#f7bca1"/>
<circle cx="205.80" cy="212.60" r="1.6" fill="#f7bca1"/>
<circle cx="201.50" cy="215.50" r="1.6" fill="#f59d7e"/>
<circle cx="218.20" cy="214.90" r="1.6" fill="#d1493f"/>
<circle cx="220.70" cy="219.60" r="1.6" fill="#f2c9b4"/>
<circle cx="213.00" cy="221.10" r="1.6" fill="#ead4c8"/>
<circle cx="205.10" cy="225.10" r="1.6" fill="#f59d7e"/>
<circle cx="212.30" cy="230.50" r="1.6" fill="#e0654f"/>
<circle cx="237.40" cy="215.70" r="1.6" fill="#da5a49"/>
<circle cx="257.70" cy="215.70" r="1.6" fill="#da5a49"/>
<circle cx="264.50" cy="230.50" r="1.6" fill="#da5a49"/>
<circle cx="262.30" cy="190.20" r="1.6" fill="#e0654f"/>
<circle cx="251.60" cy="193.90" r="1.6" fill="#f7aa8c"/>
<circle cx="261.80" cy="203.10" r="1.6" fill="#eed0c0"/>
<circle cx="275.30" cy="201.30" r="1.6" fill="#eed0c0"/>
<circle cx="127.40" cy="49.80" r="1.6" fill="#8db0fe"/>
<circle cx="138.70" cy="65.20" r="1.6" fill="#ead4c8"/>
<line x1="151.5" y1="5.6" x2="151.5" y2="241.3" stroke="#383838" stroke-width="1.1" stroke-dasharray="2.1 1.29"/>
<line x1="67.35" y1="152.5" x2="296.6" y2="152.5" stroke="#383838" stroke-width="1.1" stroke-dasharray="2.1 1.29" stroke-dashoffset="2.89"/>
<rect x="67.8" y="152.6" width="34.1" height="12.8" fill="#7f8c1f"/>
<text x="73.2" y="161.8" font-size="7" fill="#e4e7c8">AHPTh</text>
<rect x="151.9" y="228.1" width="33.5" height="12.8" fill="#7f8c1f"/>
<text x="157.5" y="236.8" font-size="7" fill="#e4e7c8">NRRTh</text>
<rect x="67.35" y="5.60" width="229.25" height="235.70" fill="none" stroke="#404040" stroke-width="1.3"/>
<text x="72.0" y="16.7" font-size="9.2" font-weight="bold" fill="#111">Hi-SES</text>
<text x="72.0" y="27.9" font-size="9.2" font-weight="bold" fill="#111">Lo-NonReg</text>
<text x="243.6" y="16.7" font-size="9.2" font-weight="bold" fill="#111">Hi-SES</text>
<text x="243.6" y="27.9" font-size="9.2" font-weight="bold" fill="#111">Hi-NonReg</text>
<text x="72.0" y="225.2" font-size="9.2" font-weight="bold" fill="#111">Lo-SES</text>
<text x="72.0" y="236.6" font-size="9.2" font-weight="bold" fill="#111">Lo-NonReg</text>
<text x="243.4" y="225.2" font-size="9.2" font-weight="bold" fill="#4472c4">Lo-SES</text>
<text x="243.4" y="236.6" font-size="9.2" font-weight="bold" fill="#4472c4">Hi-NonReg</text>
<text x="63.2" y="20.15" font-size="10.9" font-weight="bold" text-anchor="end" fill="#111">180000</text>
<text x="63.2" y="47.71" font-size="10.9" font-weight="bold" text-anchor="end" fill="#111">160000</text>
<text x="63.2" y="75.27" font-size="10.9" font-weight="bold" text-anchor="end" fill="#111">140000</text>
<text x="63.2" y="102.83" font-size="10.9" font-weight="bold" text-anchor="end" fill="#111">120000</text>
<text x="63.2" y="130.39" font-size="10.9" font-weight="bold" text-anchor="end" fill="#111">100000</text>
<text x="63.2" y="157.95" font-size="10.9" font-weight="bold" text-anchor="end" fill="#111">80000</text>
<text x="63.2" y="185.51" font-size="10.9" font-weight="bold" text-anchor="end" fill="#111">60000</text>
<text x="63.2" y="213.07" font-size="10.9" font-weight="bold" text-anchor="end" fill="#111">40000</text>
<text x="63.2" y="240.63" font-size="10.9" font-weight="bold" text-anchor="end" fill="#111">20000</text>
<text x="77.3" y="254.0" font-size="10.5" font-weight="bold" text-anchor="middle" fill="#111">0.0</text>
<text x="123.6" y="254.0" font-size="10.5" font-weight="bold" text-anchor="middle" fill="#111">0.2</text>
<text x="169.9" y="254.0" font-size="10.5" font-weight="bold" text-anchor="middle" fill="#111">0.4</text>
<text x="216.2" y="254.0" font-size="10.5" font-weight="bold" text-anchor="middle" fill="#111">0.6</text>
<text x="262.5" y="254.0" font-size="10.5" font-weight="bold" text-anchor="middle" fill="#111">0.8</text>
<text x="182.1" y="266.0" font-size="11.15" font-weight="bold" text-anchor="middle" fill="#111">Non-registered Resident Ratio</text>
<text transform="translate(21.9,124.2) rotate(-90)" x="0" y="0" font-size="11.07" font-weight="bold" text-anchor="middle" fill="#111">Average Housing Price (Yuan)</text>
<rect x="310.2" y="35" width="9.4" height="176.8" fill="url(#cw)" stroke="#444" stroke-width="0.6"/>
<line x1="319.6" y1="50.40" x2="322" y2="50.40" stroke="#333" stroke-width="0.7"/>
<text x="322.9" y="53.70" font-size="8.8" fill="#222">8.0</text>
<line x1="319.6" y1="84.15" x2="322" y2="84.15" stroke="#333" stroke-width="0.7"/>
<text x="322.9" y="87.45" font-size="8.8" fill="#222">7.5</text>
<line x1="319.6" y1="117.90" x2="322" y2="117.90" stroke="#333" stroke-width="0.7"/>
<text x="322.9" y="121.20" font-size="8.8" fill="#222">7.0</text>
<line x1="319.6" y1="151.65" x2="322" y2="151.65" stroke="#333" stroke-width="0.7"/>
<text x="322.9" y="154.95" font-size="8.8" fill="#222">6.5</text>
<line x1="319.6" y1="185.40" x2="322" y2="185.40" stroke="#333" stroke-width="0.7"/>
<text x="322.9" y="188.70" font-size="8.8" fill="#222">6.0</text>
<text transform="translate(342.8,123.7) rotate(-90)" x="0" y="0" font-size="8.55" font-weight="bold" text-anchor="middle" fill="#111">Service Accessibility Distance (log)</text>
<line x1="405.3" y1="201.70" x2="409.1" y2="201.70" stroke="#111" stroke-width="1.6"/>
<text x="393.7" y="206.30" font-size="13" text-anchor="end" fill="#111">0%</text>
<line x1="405.3" y1="178.45" x2="409.1" y2="178.45" stroke="#111" stroke-width="1.6"/>
<text x="393.7" y="183.05" font-size="13" text-anchor="end" fill="#111">5%</text>
<line x1="405.3" y1="155.20" x2="409.1" y2="155.20" stroke="#111" stroke-width="1.6"/>
<text x="393.7" y="159.80" font-size="13" text-anchor="end" fill="#111">10%</text>
<line x1="405.3" y1="131.95" x2="409.1" y2="131.95" stroke="#111" stroke-width="1.6"/>
<text x="393.7" y="136.55" font-size="13" text-anchor="end" fill="#111">15%</text>
<line x1="405.3" y1="108.70" x2="409.1" y2="108.70" stroke="#111" stroke-width="1.6"/>
<text x="393.7" y="113.30" font-size="13" text-anchor="end" fill="#111">20%</text>
<line x1="405.3" y1="85.45" x2="409.1" y2="85.45" stroke="#111" stroke-width="1.6"/>
<text x="393.7" y="90.05" font-size="13" text-anchor="end" fill="#111">25%</text>
<line x1="405.3" y1="62.20" x2="409.1" y2="62.20" stroke="#111" stroke-width="1.6"/>
<text x="393.7" y="66.80" font-size="13" text-anchor="end" fill="#111">30%</text>
<line x1="405.3" y1="38.95" x2="409.1" y2="38.95" stroke="#111" stroke-width="1.6"/>
<text x="393.7" y="43.55" font-size="13" text-anchor="end" fill="#111">35%</text>
<line x1="405.3" y1="15.70" x2="409.1" y2="15.70" stroke="#111" stroke-width="1.6"/>
<text x="393.7" y="20.30" font-size="13" text-anchor="end" fill="#111">40%</text>
<rect x="422.40" y="145.90" width="15.7" height="55.80" fill="#4f81bd"/>
<rect x="442.10" y="145.90" width="15.5" height="55.80" fill="#c0504d"/>
<rect x="491.90" y="26.39" width="15.7" height="175.31" fill="#4f81bd"/>
<rect x="511.65" y="68.24" width="15.5" height="133.46" fill="#c0504d"/>
<rect x="561.40" y="71.96" width="15.7" height="129.74" fill="#4f81bd"/>
<rect x="581.20" y="97.07" width="15.5" height="104.63" fill="#c0504d"/>
<rect x="630.90" y="97.07" width="15.7" height="104.63" fill="#4f81bd"/>
<rect x="650.75" y="31.97" width="15.5" height="169.73" fill="#c0504d"/>
<line x1="405.3" y1="15.0" x2="405.3" y2="202.50" stroke="#111" stroke-width="1.8"/>
<line x1="404.4" y1="201.60" x2="683.8" y2="201.60" stroke="#111" stroke-width="2.0"/>
<text x="439.80" y="219.3" font-size="11.8" text-anchor="middle" fill="#111">Hi-SES;</text>
<text x="439.80" y="233.4" font-size="11.8" text-anchor="middle" fill="#111">Hi-NonReg</text>
<text x="509.60" y="219.3" font-size="11.8" text-anchor="middle" fill="#111">Hi-SES;</text>
<text x="509.60" y="233.4" font-size="11.8" text-anchor="middle" fill="#111">Lo-NonReg</text>
<text x="579.40" y="219.3" font-size="11.8" text-anchor="middle" fill="#111">Lo-SES;</text>
<text x="579.40" y="233.4" font-size="11.8" text-anchor="middle" fill="#111">Lo-NonReg</text>
<text x="649.20" y="219.3" font-size="11.8" text-anchor="middle" fill="#111">Lo-SES;</text>
<text x="649.20" y="233.4" font-size="11.8" text-anchor="middle" fill="#111">Hi-NonReg</text>
<rect x="456.8" y="250.6" width="5.6" height="5.9" fill="#4f81bd"/>
<text x="465.2" y="257.0" font-size="12" fill="#111">Population(%)</text>
<rect x="552.8" y="250.5" width="5.8" height="5.9" fill="#c0504d"/>
<text x="561.2" y="257.0" font-size="12" fill="#111">Area(%)</text>
</svg></body></html>
